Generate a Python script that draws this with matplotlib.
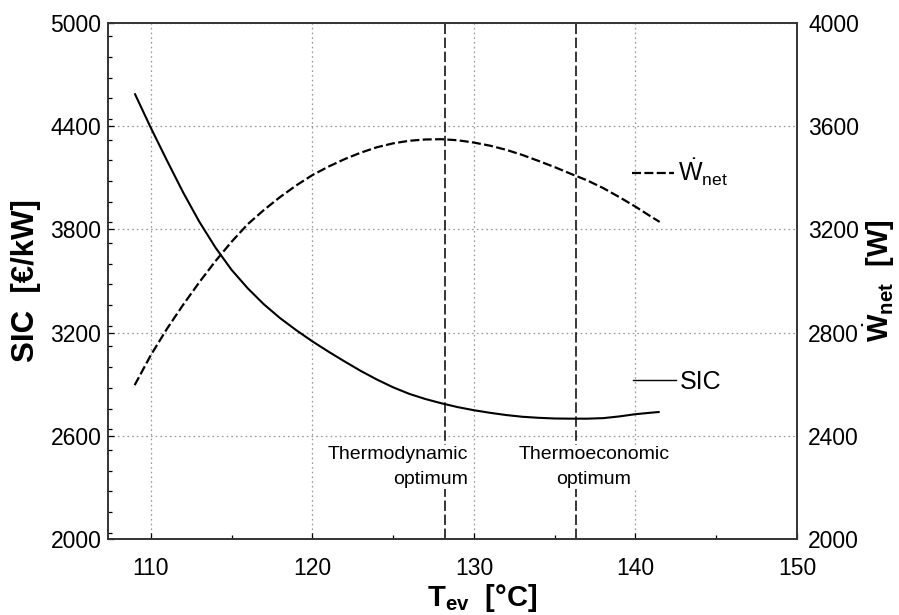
import matplotlib
matplotlib.use('Agg')
import matplotlib.pyplot as plt
from matplotlib.lines import Line2D
from matplotlib.ticker import MultipleLocator

plt.rcParams['font.family'] = ['Liberation Sans', 'DejaVu Sans']
plt.rcParams['mathtext.fontset'] = 'custom'
plt.rcParams['mathtext.rm'] = 'Liberation Sans'
plt.rcParams['mathtext.it'] = 'Liberation Sans:italic'
plt.rcParams['mathtext.bf'] = 'Liberation Sans:bold'
plt.rcParams['lines.scale_dashes'] = False

# ---- data ----
T_sic = [109, 110, 111, 112, 113, 114, 115, 116, 117, 118, 119, 120, 121, 122,
         123, 124, 125, 126, 127, 128, 129, 130, 131, 132, 133, 134, 135, 136,
         137, 138, 139, 140, 141, 141.5]
sic = [4590, 4390, 4200, 4015, 3845, 3695, 3565, 3458, 3365, 3285, 3215, 3150,
       3090, 3033, 2978, 2928, 2883, 2845, 2815, 2790, 2768, 2750, 2735, 2722,
       2712, 2706, 2702, 2701, 2701, 2704, 2714, 2727, 2736, 2740]

T_w = [109, 110, 111, 112, 113, 114, 115, 116, 117, 118, 119, 120, 121, 122,
       123, 124, 125, 126, 127, 128, 129, 130, 131, 132, 133, 134, 135, 136,
       137, 138, 139, 140, 141, 141.5]
w_net = [2597, 2713, 2815, 2908, 2995, 3077, 3152, 3220, 3275, 3325, 3370, 3410,
         3443, 3472, 3497, 3518, 3533, 3543, 3548, 3549, 3545, 3536, 3524, 3508,
         3488, 3465, 3441, 3415, 3390, 3360, 3325, 3288, 3248, 3229]

opt_T = [128.2, 136.35]
opt_labels = ['Thermodynamic\noptimum', 'Thermoeconomic\noptimum']

xticks = [110, 120, 130, 140, 150]
yticks_left = [2000, 2600, 3200, 3800, 4400, 5000]
yticks_right = [2000, 2400, 2800, 3200, 3600, 4000]

# ---- figure ----
W, H = 899, 615
fig = plt.figure(figsize=(W / 100, H / 100), dpi=100)
ax = fig.add_axes([108.3 / W, 1 - 539.4 / H, 688.7 / W, 516.7 / H])
ax2 = ax.twinx()

ax.set_xlim(107.37, 150)
ax.set_ylim(2000, 5000)
ax2.set_ylim(2000, 4000)

ax.grid(True, which='major', ls=(0, (1.2, 2.2)), color='#999999', lw=0.9)
ax.set_axisbelow(True)

ax.plot(T_sic, sic, color='black', lw=1.5, solid_capstyle='butt',
        solid_joinstyle='round')
ax2.plot(T_w, w_net, color='black', lw=1.6, dashes=(6.5, 2.4))

for xv in opt_T:
    ax.axvline(xv, color='black', lw=1.1, dashes=(7.5, 2.6), zorder=2)

ax.text(129.61, 2420, opt_labels[0], ha='right', va='center',
        multialignment='right', fontsize=14, linespacing=1.65, zorder=5,
        bbox=dict(facecolor='white', edgecolor='none', pad=0.5))
ax.text(137.43, 2420, opt_labels[1], ha='center', va='center',
        multialignment='center', fontsize=14, linespacing=1.65, zorder=5,
        bbox=dict(facecolor='white', edgecolor='none', pad=0.5))

# ticks
ax.set_xticks(xticks)
ax.set_yticks(yticks_left)
ax2.set_yticks(yticks_right)
ax.xaxis.set_minor_locator(MultipleLocator(5))
ax.yaxis.set_minor_locator(MultipleLocator(120))
ax.tick_params(which='both', direction='in', labelsize=16.5, colors='black')
ax.tick_params(which='major', length=4, width=0.9)
ax.tick_params(which='minor', length=3, width=0.9)
ax.tick_params(axis='x', pad=13)
ax.tick_params(axis='y', pad=5)
ax.tick_params(axis='y', which='both', right=False)
ax.tick_params(axis='x', which='both', top=False)
ax2.tick_params(axis='y', length=0, pad=8, labelsize=16.5)

for a in (ax, ax2):
    for s in a.spines.values():
        s.set_linewidth(1.2)
        s.set_color('#333333')

ax.set_xlabel(r'$\mathbf{T}_{\mathbf{ev}}$  [°C]', fontsize=21, fontweight='bold',
              x=0.543, labelpad=1)
ax.set_ylabel('SIC  [€/kW]', fontsize=22.5, fontweight='bold', labelpad=7)
ax2.set_ylabel(r'$\dot{\mathbf{W}}_{\mathbf{net}}$  [W]', fontsize=21,
               fontweight='bold', labelpad=2)

# legend-like labels
h_w = Line2D([], [], color='black', lw=1.6, dashes=(6.5, 2.4))
h_s = Line2D([], [], color='black', lw=1.0)
leg1 = ax2.legend([h_w], [r'$\dot{\mathrm{W}}_{\mathrm{net}}$'], loc='center left',
                  bbox_to_anchor=(0.7604, 0.7105), frameon=False, fontsize=18,
                  handlelength=1.7, handletextpad=0.15, borderpad=0,
                  borderaxespad=0)
ax2.add_artist(leg1)
ax2.legend([h_s], ['SIC'], loc='center left', bbox_to_anchor=(0.7625, 0.3052),
           frameon=False, fontsize=18, handlelength=1.7, handletextpad=0.15,
           borderpad=0, borderaxespad=0)

fig.savefig('out.png', dpi=100)
